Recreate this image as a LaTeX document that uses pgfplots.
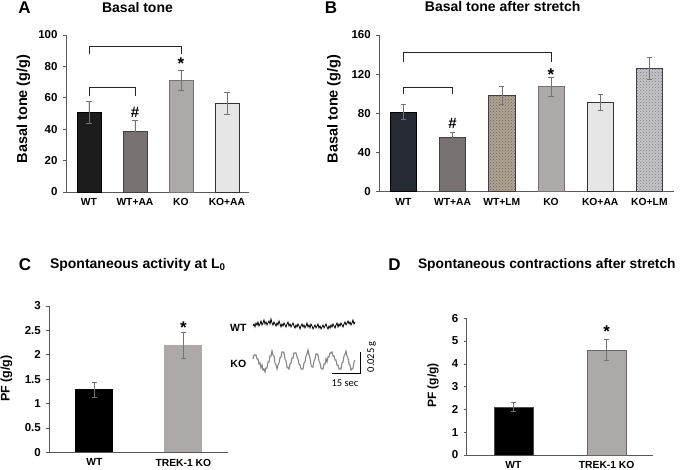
\documentclass[border=0pt]{standalone}
\usepackage{pgfplots}
\usepackage{pgfplotstable}
\pgfplotsset{compat=1.18}
\usetikzlibrary{patterns}
\usepackage{fontspec}
\setmainfont{Liberation Sans}
\newfontfamily\calfont{Carlito}
\definecolor{cWT}{HTML}{1C1C1C}
\definecolor{cWTAA}{HTML}{777171}
\definecolor{cKO}{HTML}{ADA9A9}
\definecolor{cKOAA}{HTML}{E6E6E6}
\definecolor{cWTB}{HTML}{262B33}
\definecolor{cWTLM}{HTML}{B0A493}
\definecolor{cWTLMd}{HTML}{6E6255}
\definecolor{cKOLM}{HTML}{C6C6CA}
\definecolor{cKOLMd}{HTML}{77777D}
\pgfplotsset{
  panel/.style={scale only axis, anchor=south west,
    axis x line*=bottom, axis y line*=left,
    axis line style={draw=black!65, line width=0.7pt},
    x tick style={draw=none},
    y tick style={draw=black!65, line width=0.6pt},
    tick align=outside, major tick length=3pt,
    ymin=0,
    yticklabel={\textbf{\pgfmathprintnumber[assume math mode=true]{\tick}}},
    yticklabel style={font=\fontsize{11.5}{12}\selectfont\bfseries, xshift=-2pt},
    xticklabel style={font=\fontsize{10.3}{12}\selectfont\bfseries},
    clip=false},
  errb/.style={error bars/.cd, y dir=both, y explicit,
    error bar style={draw=black!55, line width=0.6pt},
    error mark options={rotate=90, draw=black!55, mark size=2.6pt, line width=0.6pt}},
}
\pgfplotstableread[row sep=\\, header=false]{
144\\146\\143\\147\\145\\148\\144\\146\\149\\145\\
147\\150\\146\\148\\145\\147\\149\\146\\151\\147\\
145\\148\\146\\144\\147\\145\\149\\146\\143\\146\\
144\\147\\145\\143\\146\\148\\144\\146\\143\\145\\
147\\144\\142\\145\\143\\146\\144\\141\\144\\146\\
143\\145\\142\\144\\147\\143\\145\\142\\146\\144\\
141\\143\\145\\142\\144\\146\\142\\144\\141\\143\\
145\\142\\144\\146\\143\\141\\144\\142\\145\\143\\
146\\144\\142\\145\\147\\143\\146\\144\\147\\145\\
143\\146\\148\\145\\147\\149\\146\\148\\145\\147\\
150\\146\\148\\
}\wttrace
\pgfplotstableread[row sep=\\, header=false]{
111\\115\\115\\115\\111\\111\\106\\107\\102\\105\\
100\\101\\98\\102\\102\\108\\108\\114\\114\\119\\
115\\114\\107\\105\\101\\105\\107\\112\\113\\118\\
118\\117\\111\\109\\103\\102\\101\\106\\107\\112\\
112\\117\\117\\117\\113\\111\\106\\105\\101\\101\\
101\\107\\108\\114\\116\\120\\115\\112\\105\\103\\
103\\109\\111\\116\\116\\115\\109\\107\\102\\101\\
101\\106\\106\\111\\108\\113\\113\\117\\117\\118\\
114\\114\\110\\110\\105\\105\\101\\101\\101\\107\\
108\\114\\116\\119\\114\\112\\106\\105\\100\\101\\
102\\108\\110\\
}\kotrace
\begin{document}
\begin{tikzpicture}[x=1pt,y=1pt]
\useasboundingbox (0pt,0pt) rectangle (685pt,470pt);
% ---------- Panel A ----------
\node[font=\fontsize{17}{18}\selectfont\bfseries] at (24.5pt,462pt) {A};
\node[font=\fontsize{14}{16}\selectfont\bfseries] at (137.5pt,462.5pt) {Basal tone};
\node[font=\fontsize{14.5}{16}\selectfont\bfseries, rotate=90] at (23.5pt,361pt) {Basal tone (g/g)};
\begin{axis}[panel, at={(66pt,278pt)}, width=183pt, height=157pt,
  xmin=-0.5, xmax=3.48, ymax=100, ytick={0,20,...,100},
  xtick={0,1,2,3}, xticklabels={WT,WT+AA,KO,KO+AA}]
\addplot[ybar, bar width=0.52, fill=cWT, draw=black, line width=0.6pt, errb] coordinates {(0,50.5) +- (0,7)};
\addplot[ybar, bar width=0.52, fill=cWTAA, draw=black!75, line width=0.6pt, errb] coordinates {(1,38.4) +- (0,7)};
\addplot[ybar, bar width=0.52, fill=cKO, draw=black!55, line width=0.6pt, errb] coordinates {(2,71.1) +- (0,6.6)};
\addplot[ybar, bar width=0.52, fill=cKOAA, draw=black!80, line width=0.6pt, errb] coordinates {(3,56.5) +- (0,6.7)};
\draw[line width=0.7pt, black!85] (axis cs:0,61) -- (axis cs:0,66.7) -- (axis cs:1,66.7) -- (axis cs:1,61);
\draw[line width=0.7pt, black!85] (axis cs:0,87.6) -- (axis cs:0,92.6) -- (axis cs:2,92.6) -- (axis cs:2,87.6);
\node[font=\fontsize{15}{16}\selectfont\bfseries] at (axis cs:1,50.8) {\#};
\node[font=\fontsize{17}{16}\selectfont\bfseries] at (axis cs:2,81.5) {*};
\end{axis}
% ---------- Panel B ----------
\node[font=\fontsize{17}{18}\selectfont\bfseries] at (331pt,462pt) {B};
\node[font=\fontsize{14}{16}\selectfont\bfseries] at (502.7pt,463pt) {Basal tone after stretch};
\node[font=\fontsize{14.5}{16}\selectfont\bfseries, rotate=90] at (334pt,361pt) {Basal tone (g/g)};
\begin{axis}[panel, at={(379.3pt,278.3pt)}, width=294.7pt, height=156.7pt,
  xmin=-0.49, xmax=5.5, ymax=160, ytick={0,40,...,160},
  xtick={0,1,2,3,4,5}, xticklabels={WT,WT+AA,WT+LM,KO,KO+AA,KO+LM}]
\addplot[ybar, bar width=0.53, fill=cWTB, draw=black, line width=0.6pt, errb] coordinates {(0,81.4) +- (0,7.8)};
\addplot[ybar, bar width=0.53, fill=cWTAA, draw=black!75, line width=0.6pt, errb] coordinates {(1,55.5) +- (0,4.7)};
\addplot[ybar, bar width=0.53, fill=cWTLM, draw=black!75, line width=0.6pt, postaction={pattern=crosshatch dots, pattern color=cWTLMd}, errb] coordinates {(2,98.4) +- (0,8.8)};
\addplot[ybar, bar width=0.53, fill=cKO, draw=black!55, line width=0.6pt, errb] coordinates {(3,107.2) +- (0,9.6)};
\addplot[ybar, bar width=0.53, fill=cKOAA, draw=black!80, line width=0.6pt, errb] coordinates {(4,91.3) +- (0,8.2)};
\addplot[ybar, bar width=0.53, fill=cKOLM, draw=black!75, line width=0.6pt, postaction={pattern=crosshatch dots, pattern color=cKOLMd}, errb] coordinates {(5,126) +- (0,11.2)};
\draw[line width=0.7pt, black!85] (axis cs:0,99.4) -- (axis cs:0,106.6) -- (axis cs:1,106.6) -- (axis cs:1,99.4);
\draw[line width=0.7pt, black!85] (axis cs:0,132.7) -- (axis cs:0,142.6) -- (axis cs:3,142.6) -- (axis cs:3,132.7);
\node[font=\fontsize{15}{16}\selectfont\bfseries] at (axis cs:1,69.8) {\#};
\node[font=\fontsize{17}{16}\selectfont\bfseries] at (axis cs:3,119) {*};
\end{axis}
% ---------- Panel C ----------
\node[font=\fontsize{17}{18}\selectfont\bfseries] at (25pt,205pt) {C};
\node[font=\fontsize{14}{16}\selectfont\bfseries, anchor=west] at (46.5pt,205pt) {Spontaneous activity at L\textsubscript{0}};
\node[font=\fontsize{12.5}{14}\selectfont\bfseries, rotate=90] at (6.5pt,91.5pt) {PF (g/g)};
\begin{axis}[panel, at={(49.3pt,17.7pt)}, width=178.7pt, height=146.3pt,
  xmin=-0.506, xmax=1.502, ymax=3, ytick={0,0.5,...,3},
  yticklabel={\textbf{\pgfmathprintnumber[fixed, assume math mode=true]{\tick}}},
  xtick={0,1}, xticklabels={WT,TREK-1 KO}]
\addplot[ybar, bar width=0.427, fill=black, draw=none, errb] coordinates {(0,1.29) +- (0,0.155)};
\addplot[ybar, bar width=0.427, fill=cKO, draw=none, errb] coordinates {(1,2.19) +- (0,0.265)};
\node[font=\fontsize{17}{16}\selectfont\bfseries] at (axis cs:1,2.56) {*};
\end{axis}
% traces
\node[font=\fontsize{10.5}{12}\selectfont\bfseries] at (238.3pt,141.7pt) {WT};
\node[font=\fontsize{10.5}{12}\selectfont\bfseries] at (238.3pt,106pt) {KO};
\begin{axis}[at={(250pt,90pt)}, anchor=south west, scale only axis, hide axis,
  width=115pt, height=65pt, xmin=250, xmax=365, ymin=90, ymax=155, clip=false]
\addplot[black, line width=0.8pt] table[x expr=\coordindex+253, y index=0] {\wttrace};
\addplot[black!48, line width=1.1pt] table[x expr=\coordindex+253, y index=0] {\kotrace};
\addplot[black, line width=0.8pt] coordinates {(331.7,96.7) (360,96.7) (360,118.3)};
\end{axis}
\node[font=\calfont\fontsize{10.5}{12}\selectfont] at (345pt,87.3pt) {15 sec};
\node[font=\calfont\fontsize{10.5}{12}\selectfont, rotate=90] at (371.5pt,113.3pt) {0.025 g};
% ---------- Panel D ----------
\node[font=\fontsize{17}{18}\selectfont\bfseries] at (394.5pt,205pt) {D};
\node[font=\fontsize{13.8}{16}\selectfont\bfseries, anchor=west] at (414.5pt,205pt) {Spontaneous contractions after stretch};
\node[font=\fontsize{12}{14}\selectfont\bfseries, rotate=90] at (433pt,84.5pt) {PF (g/g)};
\begin{axis}[panel, at={(466.7pt,15pt)}, width=186.6pt, height=136.7pt,
  xmin=-0.5, xmax=1.5, ymax=6, ytick={0,1,...,6},
  xtick={0,1}, xticklabels={WT,TREK-1 KO}]
\addplot[ybar, bar width=0.418, fill=black, draw=black!70, line width=0.6pt, errb] coordinates {(0,2.11) +- (0,0.2)};
\addplot[ybar, bar width=0.418, fill=cKO, draw=black!60, line width=0.6pt, errb] coordinates {(1,4.61) +- (0,0.47)};
\node[font=\fontsize{17}{16}\selectfont\bfseries] at (axis cs:1,5.4) {*};
\end{axis}
\end{tikzpicture}
\end{document}
